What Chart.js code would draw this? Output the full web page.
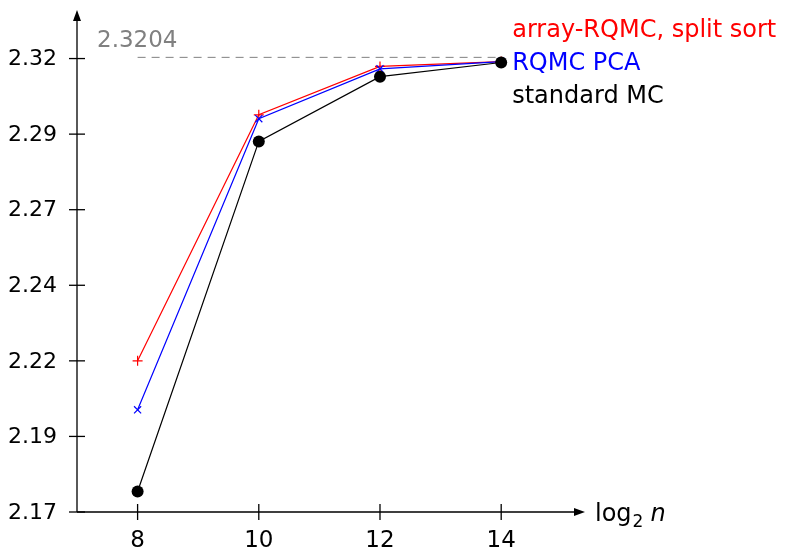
<!DOCTYPE html>
<html>
<head>
<meta charset="utf-8">
<script src="https://cdn.jsdelivr.net/npm/chart.js@4.4.1/dist/chart.umd.min.js"></script>
<style>
  html, body { margin: 0; padding: 0; background: #fff; }
</style>
</head>
<body>
<canvas id="estChart" width="791" height="552"></canvas>
<script>
// x = log2 n, y = estimated value
const logN = [8, 10, 12, 14];
const arraySplitSort = [2.2200, 2.3014, 2.3174, 2.3190];
const rqmcPca = [2.2038, 2.3001, 2.3166, 2.3190];
const standardMC = [2.1768, 2.2926, 2.3140, 2.3187];
const seriesNames = ['array-RQMC, split sort', 'RQMC PCA', 'standard MC'];
const seriesColors = ['#ff0000', '#0000ff', '#000000'];
const refValue = 2.3204;
const refLabel = '2.3204';
const yTickValues = [2.17, 2.195, 2.22, 2.245, 2.27, 2.295, 2.32];
const yTickLabels = ['2.17', '2.19', '2.22', '2.24', '2.27', '2.29', '2.32'];
const xTickValues = [8, 10, 12, 14];

const FONT = '"DejaVu Sans", sans-serif';

function pts(ys) {
  return logN.map((x, i) => ({ x: x, y: ys[i] }));
}

// axis lines with arrow heads, crossing tick marks and tick labels
const axesPlugin = {
  id: 'axesPlugin',
  beforeDatasetsDraw(chart) {
    const ctx = chart.ctx;
    const area = chart.chartArea;
    const xs = chart.scales.x, ys = chart.scales.y;
    const x0 = area.left, y0 = area.bottom;
    ctx.save();
    ctx.strokeStyle = '#000';
    ctx.fillStyle = '#000';
    ctx.lineWidth = 1.3;

    ctx.beginPath();
    ctx.moveTo(x0, y0);
    ctx.lineTo(x0, area.top + 6);
    ctx.moveTo(x0, y0);
    ctx.lineTo(area.right - 6, y0);
    ctx.stroke();

    // arrow heads
    ctx.beginPath();
    ctx.moveTo(x0, area.top - 2);
    ctx.lineTo(x0 - 4, area.top + 9);
    ctx.lineTo(x0 + 4, area.top + 9);
    ctx.closePath();
    ctx.fill();
    ctx.beginPath();
    ctx.moveTo(area.right + 2, y0);
    ctx.lineTo(area.right - 9, y0 - 4);
    ctx.lineTo(area.right - 9, y0 + 4);
    ctx.closePath();
    ctx.fill();

    ctx.font = '22px ' + FONT;
    ctx.textAlign = 'right';
    ctx.textBaseline = 'middle';
    yTickValues.forEach((v, i) => {
      const py = ys.getPixelForValue(v);
      ctx.beginPath();
      ctx.moveTo(x0 - 8, py);
      ctx.lineTo(x0 + 8, py);
      ctx.stroke();
      ctx.fillText(yTickLabels[i], x0 - 20, py + 1);
    });

    ctx.font = '23px ' + FONT;
    ctx.textAlign = 'center';
    ctx.textBaseline = 'alphabetic';
    xTickValues.forEach(v => {
      const px = xs.getPixelForValue(v);
      ctx.beginPath();
      ctx.moveTo(px, y0 - 8);
      ctx.lineTo(px, y0 + 8);
      ctx.stroke();
      ctx.fillText(String(v), px, y0 + 35);
    });

    // x axis title: log_2 n
    ctx.font = '24px ' + FONT;
    ctx.textAlign = 'left';
    let tx = area.right + 12;
    ctx.fillText('log', tx, y0 + 9);
    tx += ctx.measureText('log').width;
    ctx.font = '17px ' + FONT;
    ctx.fillText('2', tx + 1, y0 + 15);
    tx += ctx.measureText('2').width + 8;
    ctx.font = 'italic 24px ' + FONT;
    ctx.fillText('n', tx, y0 + 9);
    ctx.restore();
  },
  afterDraw(chart) {
    const ctx = chart.ctx;
    const xs = chart.scales.x, ys = chart.scales.y;
    ctx.save();
    // reference value label
    ctx.font = '23px ' + FONT;
    ctx.fillStyle = '#808080';
    ctx.textAlign = 'left';
    ctx.textBaseline = 'alphabetic';
    ctx.fillText(refLabel, 97, ys.getPixelForValue(refValue) - 10);

    // series names next to the last points
    ctx.font = '24px ' + FONT;
    const lx = xs.getPixelForValue(logN[logN.length - 1]) + 11;
    const baseY = ys.getPixelForValue(rqmcPca[rqmcPca.length - 1]) + 8;
    seriesNames.forEach((name, i) => {
      ctx.fillStyle = seriesColors[i];
      ctx.fillText(name, lx, baseY + (i - 1) * 33);
    });
    ctx.restore();
  }
};

new Chart(document.getElementById('estChart'), {
  type: 'line',
  data: {
    datasets: [
      {
        label: seriesNames[0],
        data: pts(arraySplitSort),
        borderColor: seriesColors[0],
        backgroundColor: seriesColors[0],
        borderWidth: 1.2,
        pointStyle: 'cross',
        pointRadius: 5,
        pointBorderWidth: 1.2,
        order: 2
      },
      {
        label: seriesNames[1],
        data: pts(rqmcPca),
        borderColor: seriesColors[1],
        backgroundColor: seriesColors[1],
        borderWidth: 1.2,
        pointStyle: 'crossRot',
        pointRadius: 5,
        pointBorderWidth: 1.2,
        order: 1
      },
      {
        label: seriesNames[2],
        data: pts(standardMC),
        borderColor: seriesColors[2],
        backgroundColor: seriesColors[2],
        borderWidth: 1.2,
        pointStyle: 'circle',
        pointRadius: 6,
        pointBorderWidth: 0,
        order: 0
      },
      {
        label: 'reference',
        data: [{ x: logN[0], y: refValue }, { x: logN[logN.length - 1], y: refValue }],
        borderColor: '#808080',
        borderWidth: 1,
        borderDash: [8, 6],
        pointRadius: 0,
        order: 3
      }
    ]
  },
  options: {
    responsive: false,
    animation: false,
    clip: false,
    layout: { padding: { left: 77, right: 208, top: 12, bottom: 40 } },
    elements: { line: { tension: 0 } },
    scales: {
      x: { type: 'linear', min: 7, max: 15.35, display: false },
      y: { type: 'linear', min: 2.17, max: 2.3354, display: false }
    },
    plugins: {
      legend: { display: false },
      tooltip: { enabled: false }
    }
  },
  plugins: [axesPlugin]
});
</script>
</body>
</html>
